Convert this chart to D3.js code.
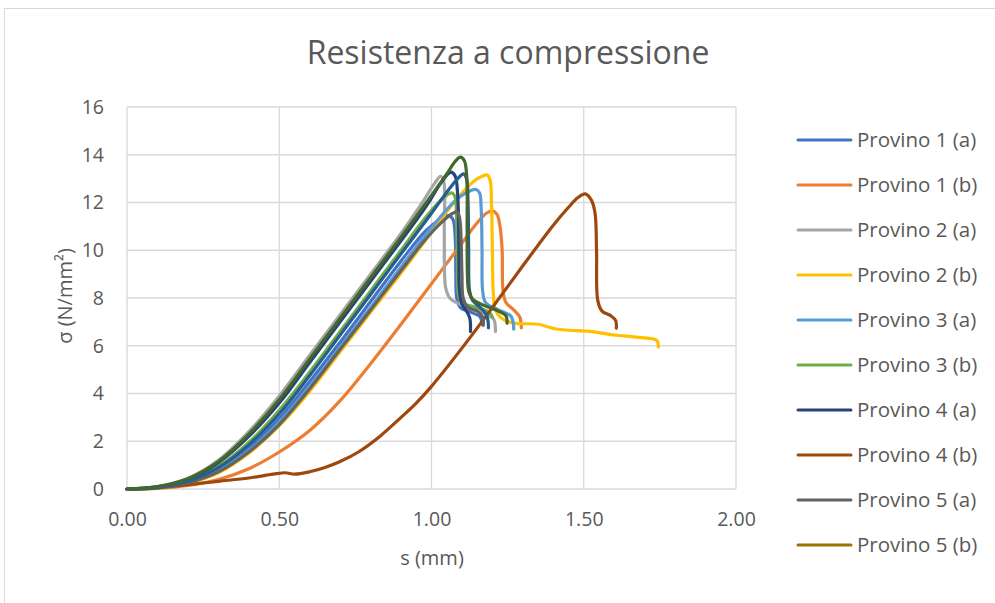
<!DOCTYPE html>
<html><head><meta charset="utf-8">
<script src="https://cdn.jsdelivr.net/npm/d3@7"></script>
<style>
html,body{margin:0;padding:0;background:#fff;}
svg{display:block;font-family:"Open Sans",sans-serif;}
</style></head><body>
<svg id="chart" width="995" height="603"></svg>
<script>
// ---- data ----
const title = "Resistenza a compressione";
const xTitle = "s (mm)";
const yTitle = "σ (N/mm²)";
const xTicks = [0, 0.5, 1.0, 1.5, 2.0];
const yTicks = [0, 2, 4, 6, 8, 10, 12, 14, 16];
const seriesNames = ["Provino 1 (a)","Provino 1 (b)","Provino 2 (a)","Provino 2 (b)","Provino 3 (a)","Provino 3 (b)","Provino 4 (a)","Provino 4 (b)","Provino 5 (a)","Provino 5 (b)","Provino 6 (a)","Provino 6 (b)"];
const seriesColors = ["#4472C4","#ED7D31","#A5A5A5","#FFC000","#5B9BD5","#70AD47","#264478","#9E480E","#636363","#997300","#255E91","#43682B"];
const legendShown = 10;

const p1a = [[0,0],[0.1,0.06],[0.2,0.3],[0.3,0.8],[0.4,1.7],[0.5,2.95],[0.6,4.5],[0.7,6.15],[0.8,7.85],[0.9,9.55],[0.98,10.8],[1.03,11.3],[1.055,11.45],[1.07,11.3],[1.078,10.5],[1.08,9],[1.083,8.0],[1.095,7.6],[1.13,7.4],[1.16,7.2],[1.165,6.9]];
const p1b = [[0,0],[0.1,0.03],[0.2,0.15],[0.3,0.4],[0.4,0.85],[0.5,1.55],[0.6,2.45],[0.7,3.7],[0.8,5.25],[0.9,6.9],[1.0,8.6],[1.1,10.3],[1.15,11.15],[1.18,11.55],[1.2,11.65],[1.215,11.5],[1.225,11.0],[1.232,10],[1.235,8.3],[1.245,7.8],[1.27,7.5],[1.29,7.2],[1.295,6.75]];
const p2a = [[0,0],[0.1,0.1],[0.2,0.45],[0.3,1.2],[0.4,2.4],[0.5,3.9],[0.6,5.6],[0.7,7.3],[0.8,9.0],[0.9,10.7],[0.97,12.0],[1.01,12.8],[1.03,13.1],[1.04,12.9],[1.042,11],[1.043,9],[1.047,8.4],[1.06,8.0],[1.1,7.7],[1.15,7.5],[1.19,7.25],[1.205,7.1],[1.21,6.6]];
const p2b = [[0,0],[0.1,0.04],[0.2,0.24],[0.3,0.68],[0.4,1.5],[0.5,2.65],[0.6,4.1],[0.7,5.75],[0.8,7.4],[0.9,9.05],[1.0,10.75],[1.08,12.1],[1.14,12.9],[1.17,13.12],[1.183,13.15],[1.193,12.9],[1.197,12],[1.2,10],[1.203,8.2],[1.21,7.5],[1.23,7.15],[1.27,6.95],[1.35,6.9],[1.41,6.7],[1.45,6.65],[1.52,6.6],[1.6,6.45],[1.68,6.35],[1.74,6.22],[1.745,5.95]];
const p3a = [[0,0],[0.1,0.05],[0.2,0.27],[0.3,0.75],[0.4,1.6],[0.5,2.8],[0.6,4.3],[0.7,5.95],[0.8,7.6],[0.9,9.3],[1.0,10.95],[1.08,12.1],[1.12,12.45],[1.145,12.55],[1.158,12.4],[1.163,11.8],[1.166,10],[1.168,8.3],[1.178,7.8],[1.22,7.5],[1.26,7.25],[1.268,7.0],[1.27,6.7]];
const p3b = [[0,0],[0.1,0.08],[0.2,0.35],[0.3,0.95],[0.4,1.95],[0.5,3.3],[0.6,4.9],[0.7,6.6],[0.8,8.3],[0.9,10.0],[0.97,11.2],[1.02,11.95],[1.055,12.35],[1.068,12.4],[1.078,12.2],[1.082,11.5],[1.085,9.5],[1.088,8.2],[1.1,7.8],[1.15,7.6],[1.19,7.4],[1.2,7.2]];
const p4a = [[0,0],[0.1,0.09],[0.2,0.4],[0.3,1.1],[0.4,2.2],[0.5,3.6],[0.6,5.3],[0.7,7.0],[0.8,8.7],[0.9,10.4],[0.98,11.8],[1.03,12.8],[1.055,13.2],[1.065,13.27],[1.078,13.1],[1.086,12.3],[1.09,10],[1.092,8.3],[1.1,7.75],[1.115,7.45],[1.126,7.15],[1.128,6.6]];
const p4b = [[0,0],[0.1,0.05],[0.2,0.18],[0.3,0.32],[0.4,0.46],[0.48,0.62],[0.52,0.68],[0.55,0.62],[0.6,0.72],[0.65,0.9],[0.7,1.15],[0.76,1.55],[0.83,2.2],[0.9,3.0],[0.95,3.6],[1.0,4.3],[1.1,5.9],[1.2,7.6],[1.3,9.35],[1.4,11.05],[1.45,11.8],[1.48,12.2],[1.505,12.36],[1.525,12.1],[1.537,11.56],[1.542,10],[1.546,7.9],[1.56,7.45],[1.59,7.25],[1.605,7.05],[1.607,6.74]];
const p5a = [[0,0],[0.1,0.05],[0.2,0.26],[0.3,0.72],[0.4,1.55],[0.5,2.7],[0.6,4.2],[0.7,5.85],[0.8,7.5],[0.9,9.15],[0.98,10.45],[1.04,11.25],[1.07,11.55],[1.085,11.6],[1.093,11.3],[1.097,10.5],[1.1,9],[1.104,8.0],[1.12,7.6],[1.15,7.45],[1.168,7.2],[1.17,6.85]];
const p5b = [];
const p6a = [[0,0],[0.1,0.07],[0.2,0.33],[0.3,0.9],[0.4,1.85],[0.5,3.15],[0.6,4.75],[0.7,6.45],[0.8,8.15],[0.9,9.85],[1.0,11.55],[1.06,12.6],[1.09,13.05],[1.105,13.2],[1.115,13.0],[1.12,12],[1.122,10],[1.125,8.3],[1.135,7.9],[1.16,7.6],[1.18,7.3],[1.186,7.0],[1.187,6.75]];
const p6b = [[0,0],[0.1,0.1],[0.2,0.43],[0.3,1.15],[0.4,2.3],[0.5,3.75],[0.6,5.45],[0.7,7.15],[0.8,8.85],[0.9,10.55],[1.0,12.3],[1.05,13.2],[1.08,13.75],[1.095,13.9],[1.108,13.75],[1.116,13.0],[1.117,11],[1.118,9],[1.122,8.3],[1.135,7.95],[1.17,7.7],[1.22,7.45],[1.245,7.25],[1.248,6.95]];
const seriesData = [p1a,p1b,p2a,p2b,p3a,p3b,p4a,p4b,p5a,p5b,p6a,p6b];

// ---- layout ----
const svg = d3.select("#chart");
const W = 995, H = 603;
const plot = {left:127, right:736, top:107, bottom:489};
const x = d3.scaleLinear().domain([0,2]).range([plot.left, plot.right]);
const y = d3.scaleLinear().domain([0,16]).range([plot.bottom, plot.top]);
const textColor = "#595959";
const gridColor = "#D9D9D9";

// chart border
svg.append("rect").attr("x",4.5).attr("y",8.5).attr("width",W+10).attr("height",H+10)
  .attr("fill","none").attr("stroke",gridColor).attr("stroke-width",1);

// gridlines
svg.append("g").selectAll("line").data(yTicks).join("line")
  .attr("x1",plot.left).attr("x2",plot.right).attr("y1",d=>y(d)).attr("y2",d=>y(d))
  .attr("stroke",gridColor).attr("stroke-width",1.3);
svg.append("g").selectAll("line").data(xTicks).join("line")
  .attr("y1",plot.top).attr("y2",plot.bottom).attr("x1",d=>x(d)).attr("x2",d=>x(d))
  .attr("stroke",gridColor).attr("stroke-width",1.3);

// axes (labels only)
const xAxis = d3.axisBottom(x).tickValues(xTicks).tickFormat(d3.format(".2f")).tickSize(0).tickPadding(23);
const gx = svg.append("g").attr("transform",`translate(0,${plot.bottom})`).call(xAxis);
const yAxis = d3.axisLeft(y).tickValues(yTicks).tickFormat(d3.format("d")).tickSize(0).tickPadding(23);
const gy = svg.append("g").attr("transform",`translate(${plot.left},0)`).call(yAxis);
[gx,gy].forEach(g=>{
  g.select(".domain").remove();
  g.selectAll("text").attr("fill",textColor).style("font-size","19.5px").style("font-family","'Open Sans',sans-serif");
});

// series
const line = d3.line().x(d=>x(d[0])).y(d=>y(d[1])).curve(d3.curveCatmullRom.alpha(0.5));
svg.append("g").selectAll("path").data(seriesData).join("path")
  .attr("d",d=>d.length? line(d):null)
  .attr("fill","none").attr("stroke",(d,i)=>seriesColors[i])
  .attr("stroke-width",3.2).attr("stroke-linejoin","round").attr("stroke-linecap","round");

// titles
svg.append("text").attr("x",508).attr("y",64).attr("text-anchor","middle")
  .attr("fill",textColor).style("font-size","32px").text(title);
svg.append("text").attr("x",432).attr("y",565).attr("text-anchor","middle")
  .attr("fill",textColor).style("font-size","20px").text(xTitle);
svg.append("text").attr("transform",`translate(72,296) rotate(-90)`).attr("text-anchor","middle")
  .attr("fill",textColor).style("font-size","20px").text(yTitle);

// legend
const lg = svg.append("g").selectAll("g").data(seriesNames.slice(0,legendShown)).join("g")
  .attr("transform",(d,i)=>`translate(798,${140+i*45})`);
lg.append("line").attr("x1",0).attr("x2",53).attr("y1",0).attr("y2",0)
  .attr("stroke",(d,i)=>seriesColors[i]).attr("stroke-width",3).attr("stroke-linecap","round");
lg.append("text").attr("x",59).attr("y",0).attr("dy","0.35em").attr("fill",textColor)
  .style("font-size","20.5px").text(d=>d);
</script>
</body></html>
